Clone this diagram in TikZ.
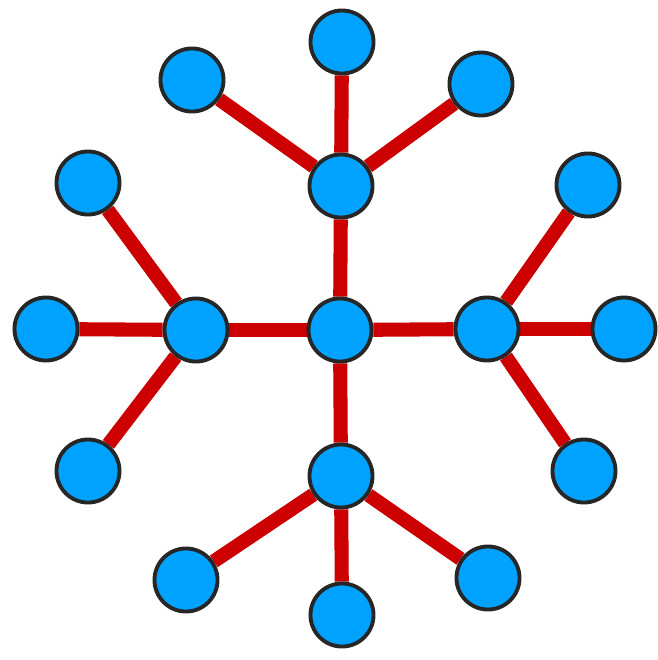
\documentclass[tikz,border=0pt]{standalone}
\usepackage{xcolor}
\usepackage{tikz}
\usetikzlibrary{positioning, backgrounds}
\definecolor{nodeblue}{RGB}{0,162,255}
\definecolor{edgered}{RGB}{204,0,0}
\tikzset{
  dot/.style  = {circle, draw=black!85, line width=1.1pt, fill=nodeblue, minimum size=0.63cm, inner sep=0pt},
  link/.style = {draw=edgered, line width=4pt}
}

\begin{document}
\begin{tikzpicture}[x=0.01cm, y=-0.01cm]

    \useasboundingbox (0,0) rectangle (658,660);

    % ── Centre and the four hubs ─────────────────────────────────────
    \node[dot] (c)  at (340, 330) {};
    \node[dot] (hT) at (341, 186) {};
    \node[dot] (hL) at (196, 330) {};
    \node[dot] (hR) at (487, 329) {};
    \node[dot] (hB) at (341, 476) {};

    % ── Leaves ────────────────────────────────────────────────────────
    \node[dot] (t1) at (192,  80) {};
    \node[dot] (t2) at (342,  42) {};
    \node[dot] (t3) at (481,  84) {};

    \node[dot] (l1) at ( 88, 183) {};
    \node[dot] (l2) at ( 46, 329) {};
    \node[dot] (l3) at ( 88, 471) {};

    \node[dot] (r1) at (588, 185) {};
    \node[dot] (r2) at (624, 329) {};
    \node[dot] (r3) at (584, 471) {};

    \node[dot] (b1) at (186, 580) {};
    \node[dot] (b2) at (342, 615) {};
    \node[dot] (b3) at (488, 578) {};

    % ── Edges, behind the dots ────────────────────────────────────────
    \begin{scope}[on background layer]
      \foreach \h in {hT, hL, hR, hB}
        \draw[link] (c) -- (\h);
      \foreach \l in {t1, t2, t3}
        \draw[link] (hT) -- (\l);
      \foreach \l in {l1, l2, l3}
        \draw[link] (hL) -- (\l);
      \foreach \l in {r1, r2, r3}
        \draw[link] (hR) -- (\l);
      \foreach \l in {b1, b2, b3}
        \draw[link] (hB) -- (\l);
    \end{scope}

\end{tikzpicture}
\end{document}
